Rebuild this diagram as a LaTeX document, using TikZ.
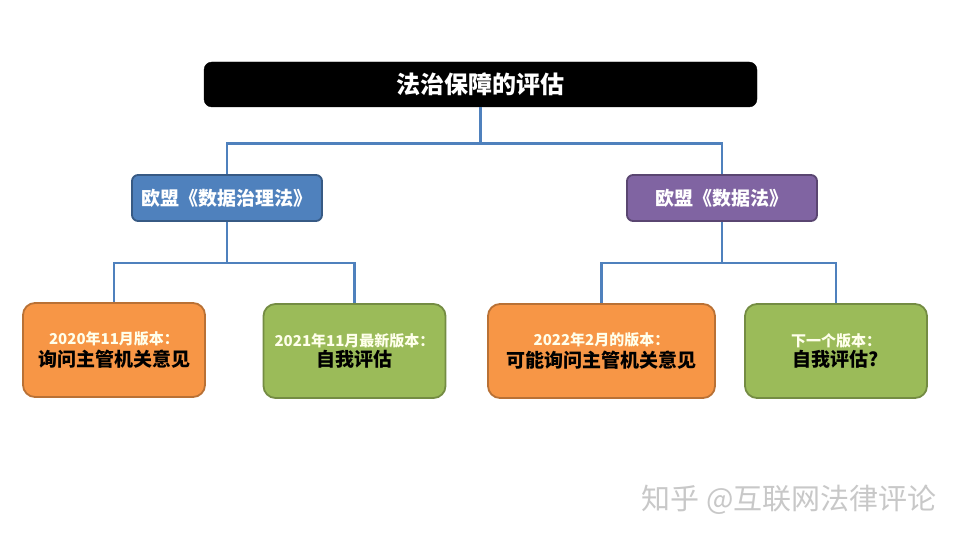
\documentclass[tikz,border=0pt]{standalone}
\usepackage{fontspec}
\setmainfont{Noto Sans CJK SC}
\usetikzlibrary{positioning}
\definecolor{linkblue}{RGB}{79, 129, 189}
\definecolor{boxblue}{RGB}{79, 129, 189}
\definecolor{boxpurple}{RGB}{128, 100, 162}
\definecolor{boxorange}{RGB}{247, 150, 70}
\definecolor{boxgreen}{RGB}{155, 187, 89}
\definecolor{markgray}{RGB}{200, 200, 200}
\definecolor{softwhite}{RGB}{255, 255, 235}
\tikzset{
  titlebox/.style={
    rectangle, rounded corners=8pt,
    minimum width=553pt, minimum height=45pt,
    draw=black, fill=black, text=white,
    font=\fontsize{24}{28}\selectfont\bfseries
  },
  lawbox/.style={
    rectangle, rounded corners=6pt,
    minimum width=190pt, minimum height=46pt,
    draw=#1!70!black, fill=#1, line width=1.8pt, text=white,
    font=\fontsize{19}{22}\selectfont\bfseries
  },
  versionbox/.style={
    rectangle, rounded corners=12pt,
    minimum width=182pt, minimum height=94pt,
    draw=#1!75!black, fill=#1, line width=1.8pt,
    align=center, font=\bfseries
  },
  link/.style={
    line width=2.8pt, color=linkblue
  }
}

\begin{document}
\begin{tikzpicture}[x=1pt, y=-1pt]

  % background / bounding box
  \fill[white] (0,0) rectangle (960,540);
  \useasboundingbox (0,0) rectangle (960,540);

  % title
  \node[titlebox] (title) at (480.5,84.5) {法治保障的评估};

  % the two laws
  \node[lawbox=boxblue]   (dga) at (227,198) {欧盟《数据治理法》};
  \node[lawbox=boxpurple] (da)  at (722,198) {欧盟《数据法》};

  % versions
  \node[versionbox=boxorange] (v2020) at (114,350)
    {{\fontsize{15}{18}\selectfont\color{softwhite}2020年11月版本：}\\[2pt]
     {\fontsize{19}{22}\selectfont 询问主管机关意见}};
  \node[versionbox=boxgreen] (v2021) at (354.5,351)
    {{\fontsize{15}{18}\selectfont\color{softwhite}2021年11月最新版本：}\\[2pt]
     {\fontsize{19}{22}\selectfont 自我评估}};
  \node[versionbox=boxorange, minimum width=227pt] (v2022) at (601.5,351)
    {{\fontsize{15}{18}\selectfont\color{softwhite}2022年2月的版本：}\\[2pt]
     {\fontsize{19}{22}\selectfont 可能询问主管机关意见}};
  \node[versionbox=boxgreen] (vnext) at (836,351)
    {{\fontsize{15}{18}\selectfont\color{softwhite}下一个版本：}\\[2pt]
     {\fontsize{19}{22}\selectfont 自我评估?}};

  % connectors
  \draw[link] (title.south) -- ++(0,36) -| (dga.north);
  \draw[link] (title.south) -- ++(0,36) -| (da.north);
  \foreach \n in {v2020, v2021}{
    \draw[link] (dga.south) -- ++(0,41) -| (\n.north);
  }
  \foreach \n in {v2022, vnext}{
    \draw[link] (da.south) -- ++(0,41) -| (\n.north);
  }

  % watermark
  \node[text=markgray, font=\fontsize{29}{32}\selectfont] (mark) at (789,500)
    {知乎 @互联网法律评论};

\end{tikzpicture}
\end{document}
